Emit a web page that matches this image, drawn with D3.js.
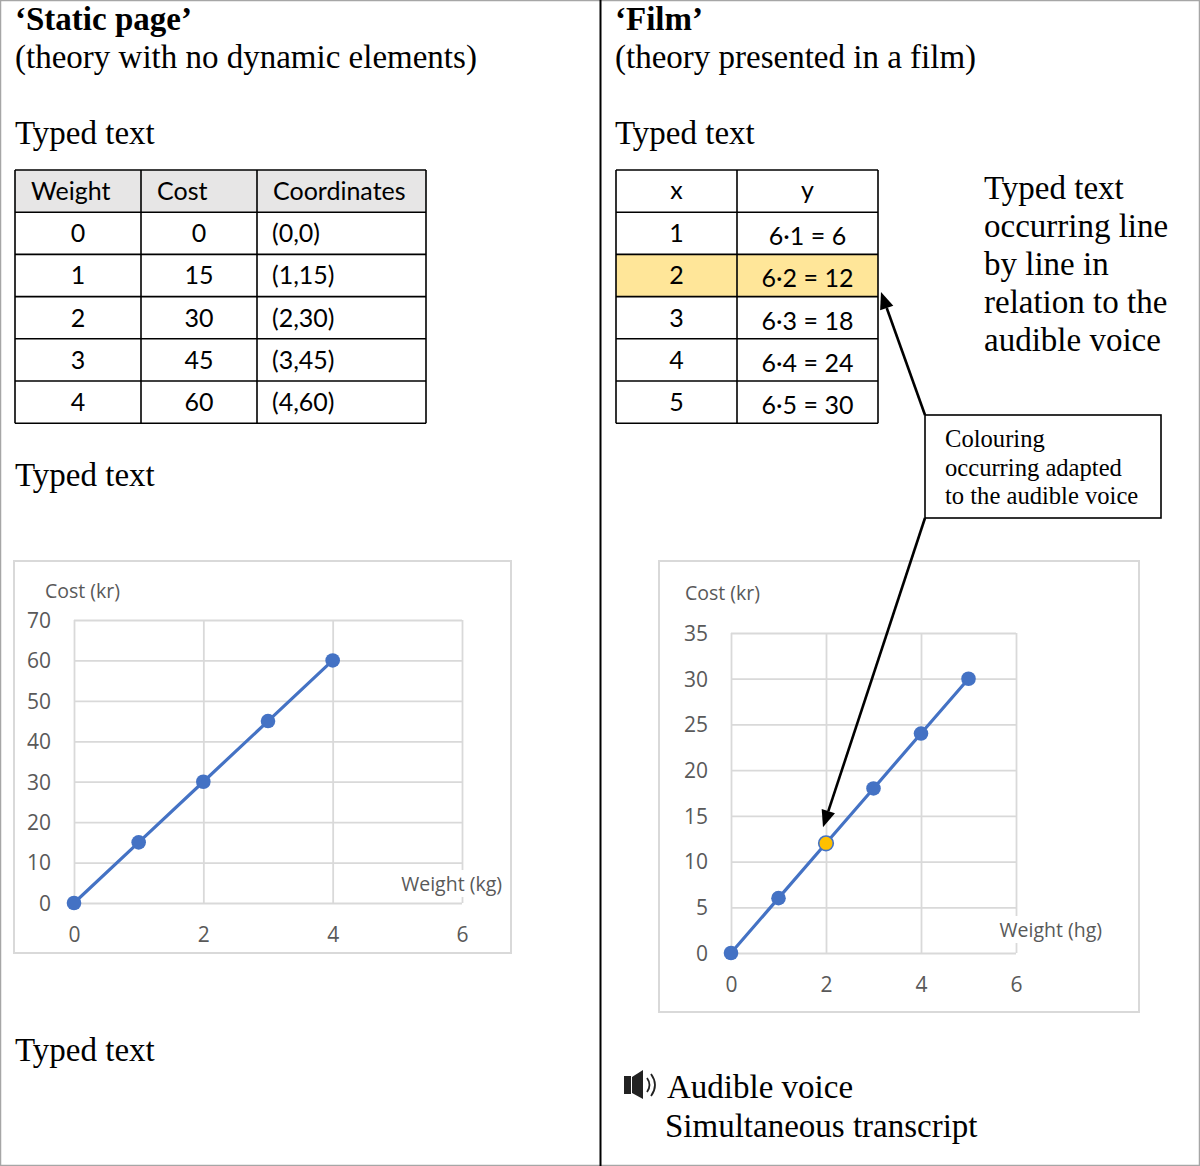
<!DOCTYPE html>
<html><head><meta charset="utf-8">
<script src="https://cdn.jsdelivr.net/npm/d3@7"></script>
<style>
html,body{margin:0;padding:0;background:#fff;}
svg{display:block;}
</style></head>
<body>
<svg id="c" width="1200" height="1166"></svg>
<script>
// ---------- data ----------
const staticHeaders = ["Weight", "Cost", "Coordinates"];
const staticWeight = [0, 1, 2, 3, 4];
const staticCost = [0, 15, 30, 45, 60];
const filmHeaders = ["x", "y"];
const filmX = [1, 2, 3, 4, 5];
const filmY = [6, 12, 18, 24, 30];
const highlightedX = 2;
const leftXTicks = [0, 2, 4, 6];
const leftYTicks = [0, 10, 20, 30, 40, 50, 60, 70];
const rightXTicks = [0, 2, 4, 6];
const rightYTicks = [0, 5, 10, 15, 20, 25, 30, 35];
const filmPointsX = [0, 1, 2, 3, 4, 5];
const filmPointsY = [0, 6, 12, 18, 24, 30];
const rightNote = ["Typed text", "occurring line", "by line in", "relation to the", "audible voice"];
const calloutLines = ["Colouring", "occurring adapted", "to the audible voice"];

// ---------- setup ----------
const svg = d3.select("#c");
const SERIF = "'Liberation Serif','Times New Roman',serif";
const TAB = "Lato, 'Open Sans', sans-serif";
const CH = "'Open Sans', 'Noto Sans', sans-serif";
const BLUE = "#4472c4", GRID = "#d9d9d9", TICK = "#595959";
const BIG = 33;

// frame
svg.append("rect").attr("x", 0.5).attr("y", 0.5).attr("width", 1199).attr("height", 1165)
  .attr("fill", "#fff").attr("stroke", "#a6a6a6").attr("stroke-width", 1.5);
svg.append("line").attr("x1", 600.5).attr("x2", 600.5).attr("y1", 0).attr("y2", 1166)
  .attr("stroke", "#000").attr("stroke-width", 2);

function txt(x, y, s, size, opts = {}) {
  return svg.append("text").attr("x", x).attr("y", y).text(s)
    .attr("font-family", opts.family || SERIF).attr("font-size", size)
    .attr("font-weight", opts.weight || "normal")
    .attr("fill", opts.fill || "#000")
    .attr("text-anchor", opts.anchor || "start");
}

// ---------- headings ----------
txt(15, 30, "\u2018Static page\u2019", BIG, {weight: "bold"});
txt(15, 68, "(theory with no dynamic elements)", BIG);
txt(15, 144, "Typed text", BIG);
txt(15, 486, "Typed text", BIG);
txt(15, 1061, "Typed text", BIG);

txt(615, 30, "\u2018Film\u2019", BIG, {weight: "bold"});
txt(615, 68, "(theory presented in a film)", BIG);
txt(615, 144, "Typed text", BIG);

rightNote.forEach((s, i) => txt(984, 199 + i * 38, s, BIG));

// ---------- left table ----------
(function () {
  const colX = [15, 141, 257, 426];
  const rowY = d3.range(7).map(i => 170 + i * 42.2);
  const g = svg.append("g");
  g.append("rect").attr("x", colX[0]).attr("y", rowY[0]).attr("width", colX[3] - colX[0])
    .attr("height", rowY[1] - rowY[0]).attr("fill", "#e7e6e6");
  staticHeaders.forEach((h, i) => {
    g.append("text").attr("x", colX[i] + 16).attr("y", rowY[0] + 30).text(h)
      .attr("font-family", TAB).attr("font-size", 25).attr("fill", "#000");
  });
  staticWeight.forEach((w, r) => {
    const y = rowY[r + 1] + 30;
    g.append("text").attr("x", (colX[0] + colX[1]) / 2).attr("y", y).text(w)
      .attr("text-anchor", "middle").attr("font-family", TAB).attr("font-size", 25);
    g.append("text").attr("x", (colX[1] + colX[2]) / 2).attr("y", y).text(staticCost[r])
      .attr("text-anchor", "middle").attr("font-family", TAB).attr("font-size", 25);
    g.append("text").attr("x", colX[2] + 15).attr("y", y).text(`(${w},${staticCost[r]})`)
      .attr("font-family", TAB).attr("font-size", 25);
  });
  colX.forEach(x => g.append("line").attr("x1", x).attr("x2", x).attr("y1", rowY[0]).attr("y2", rowY[6])
    .attr("stroke", "#000").attr("stroke-width", 1.6));
  rowY.forEach(y => g.append("line").attr("x1", colX[0]).attr("x2", colX[3]).attr("y1", y).attr("y2", y)
    .attr("stroke", "#000").attr("stroke-width", 1.6));
})();

// ---------- right table ----------
(function () {
  const colX = [616, 737, 878];
  const rowY = d3.range(7).map(i => 170 + i * 42.2);
  const g = svg.append("g");
  filmX.forEach((x, r) => {
    if (x === highlightedX) {
      g.append("rect").attr("x", colX[0]).attr("y", rowY[r + 1]).attr("width", colX[2] - colX[0])
        .attr("height", rowY[r + 2] - rowY[r + 1]).attr("fill", "#ffe699");
    }
  });
  filmHeaders.forEach((h, i) => {
    g.append("text").attr("x", (colX[i] + colX[i + 1]) / 2).attr("y", rowY[0] + 29).text(h)
      .attr("text-anchor", "middle").attr("font-family", TAB).attr("font-size", 25);
  });
  filmX.forEach((x, r) => {
    const y = rowY[r + 1] + 30;
    g.append("text").attr("x", (colX[0] + colX[1]) / 2).attr("y", y).text(x)
      .attr("text-anchor", "middle").attr("font-family", TAB).attr("font-size", 25);
    g.append("text").attr("x", (colX[1] + colX[2]) / 2).attr("y", y + 3).text(`6\u00B7${x} = ${filmY[r]}`)
      .attr("text-anchor", "middle").attr("font-family", TAB).attr("font-size", 25);
  });
  colX.forEach(x => g.append("line").attr("x1", x).attr("x2", x).attr("y1", rowY[0]).attr("y2", rowY[6])
    .attr("stroke", "#000").attr("stroke-width", 1.6));
  rowY.forEach(y => g.append("line").attr("x1", colX[0]).attr("x2", colX[2]).attr("y1", y).attr("y2", y)
    .attr("stroke", "#000").attr("stroke-width", 1.6));
})();

// ---------- charts ----------
function chart(o) {
  const g = svg.append("g");
  g.append("rect").attr("x", o.box[0]).attr("y", o.box[1]).attr("width", o.box[2]).attr("height", o.box[3])
    .attr("fill", "#fff").attr("stroke", GRID).attr("stroke-width", 2);
  const x = d3.scaleLinear().domain([0, 6]).range(o.xr);
  const y = d3.scaleLinear().domain(o.yd).range(o.yr);
  const gx = g.append("g").attr("transform", `translate(0,${o.yr[0]})`)
    .call(d3.axisBottom(x).tickValues(o.xt).tickSize(-(o.yr[0] - o.yr[1])).tickPadding(24).tickFormat(d3.format("d")));
  const gy = g.append("g").attr("transform", `translate(${o.xr[0]},0)`)
    .call(d3.axisLeft(y).tickValues(o.yt).tickSize(-(o.xr[1] - o.xr[0])).tickPadding(23).tickFormat(d3.format("d")));
  [gx, gy].forEach(a => {
    a.select(".domain").remove();
    a.selectAll(".tick line").attr("stroke", GRID).attr("stroke-width", 1.8);
    a.selectAll(".tick text").attr("font-family", CH).attr("font-size", 21).attr("fill", TICK);
  });
  gx.selectAll(".tick text").attr("dy", "0.71em");
  gy.selectAll(".tick text").attr("dy", "0.35em");
  g.append("text").attr("x", o.ytitle[0]).attr("y", o.ytitle[1]).text("Cost (kr)")
    .attr("font-family", CH).attr("font-size", 19.5).attr("fill", TICK);
  const xt = g.append("text").attr("x", o.xtitle[0]).attr("y", o.xtitle[1]).text(o.xlabel)
    .attr("text-anchor", "end").attr("font-family", CH).attr("font-size", 19.5).attr("fill", TICK);
  const bb = xt.node().getBBox();
  g.insert("rect", () => xt.node()).attr("x", bb.x - 2).attr("y", bb.y).attr("width", bb.width + 4).attr("height", bb.height)
    .attr("fill", "#fff");
  const pts = o.xs.map((d, i) => [d, o.ys[i]]);
  g.append("path").datum(pts)
    .attr("d", d3.line().x(d => x(d[0])).y(d => y(d[1])))
    .attr("fill", "none").attr("stroke", BLUE).attr("stroke-width", 3.2);
  g.selectAll("circle.pt").data(pts).join("circle").attr("class", "pt")
    .attr("cx", d => x(d[0])).attr("cy", d => y(d[1])).attr("r", 7.3)
    .attr("fill", d => (o.hl != null && d[0] === o.hl) ? "#ffc000" : BLUE)
    .attr("stroke", BLUE).attr("stroke-width", d => (o.hl != null && d[0] === o.hl) ? 1.6 : 0);
  return {x, y};
}

chart({
  box: [14, 561, 497, 392], xr: [74, 462], yd: [0, 70], yr: [903, 620],
  xt: leftXTicks, yt: leftYTicks, xs: staticWeight, ys: staticCost,
  ytitle: [45, 598], xtitle: [502, 891], xlabel: "Weight (kg)"
});
const rc = chart({
  box: [659, 561, 480, 451], xr: [731, 1016], yd: [0, 35], yr: [953, 633],
  xt: rightXTicks, yt: rightYTicks, xs: filmPointsX, ys: filmPointsY,
  ytitle: [685, 600], xtitle: [1102, 937], xlabel: "Weight (hg)", hl: highlightedX
});

// ---------- callout & arrows ----------
svg.append("rect").attr("x", 925).attr("y", 415).attr("width", 236).attr("height", 103)
  .attr("fill", "#fff").attr("stroke", "#000").attr("stroke-width", 1.6);
calloutLines.forEach((s, i) => txt(945, 447 + i * 28.5, s, 24.6));

function arrow(x1, y1, x2, y2) {
  const ang = Math.atan2(y2 - y1, x2 - x1);
  const L = 17, W = 7;
  const bx = x2 - L * Math.cos(ang), by = y2 - L * Math.sin(ang);
  svg.append("line").attr("x1", x1).attr("y1", y1).attr("x2", bx).attr("y2", by)
    .attr("stroke", "#000").attr("stroke-width", 2.6);
  const px = -Math.sin(ang) * W, py = Math.cos(ang) * W;
  svg.append("polygon")
    .attr("points", [[x2, y2], [bx + px, by + py], [bx - px, by - py]].map(p => p.join(",")).join(" "))
    .attr("fill", "#000");
}
arrow(925, 415, 881, 292);
arrow(925, 518, rc.x(highlightedX) - 3, rc.y(filmY[1]) - 16);

// ---------- speaker icon + transcript ----------
(function () {
  const g = svg.append("g").attr("fill", "#222").attr("stroke", "#222");
  g.append("rect").attr("x", 624).attr("y", 1076).attr("width", 7).attr("height", 18).attr("stroke", "none");
  g.append("path").attr("d", "M632,1077 L643,1070 L643,1099 L632,1093 Z").attr("stroke", "none");
  g.append("path").attr("d", "M647,1078 Q652,1085 647,1092").attr("fill", "none").attr("stroke-width", 1.8);
  g.append("path").attr("d", "M651,1074 Q659,1085 651,1096").attr("fill", "none").attr("stroke-width", 1.8);
})();
txt(667, 1098, "Audible voice", BIG);
txt(665, 1137, "Simultaneous transcript", BIG);
</script>
</body></html>
